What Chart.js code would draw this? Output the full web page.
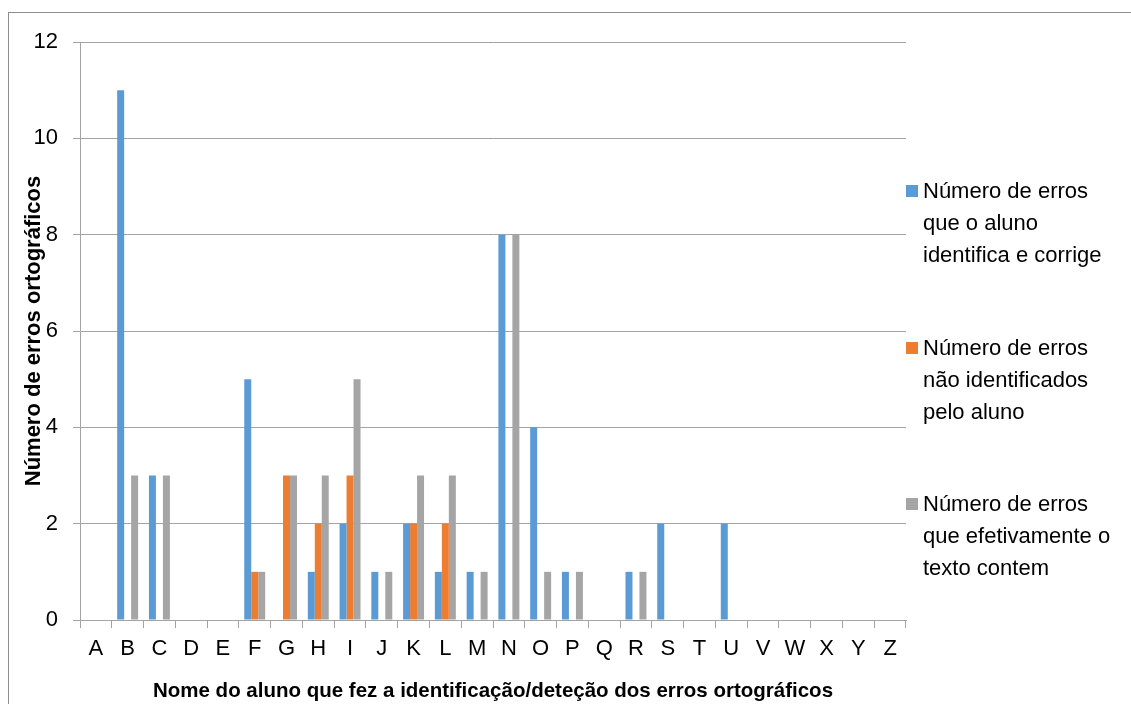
<!DOCTYPE html>
<html>
<head>
<meta charset="utf-8">
<script src="https://cdn.jsdelivr.net/npm/chart.js@4/dist/chart.umd.min.js"></script>
<style>
  body { margin: 0; background: #fff; overflow: hidden; }
  #frame { position: absolute; left: 8px; top: 12px; width: 2000px; height: 2000px; border: 1px solid #8e8e8e; }
  #wrap { position: absolute; left: 0; top: 0; width: 1131px; height: 704px; }
</style>
</head>
<body>
<div id="frame"></div>
<div id="wrap"><canvas id="grafico"></canvas></div>
<script>
const alunos = ['A', 'B', 'C', 'D', 'E', 'F', 'G', 'H', 'I', 'J', 'K', 'L', 'M', 'N', 'O', 'P', 'Q', 'R', 'S', 'T', 'U', 'V', 'W', 'X', 'Y', 'Z']

// Número de erros que o aluno identifica e corrige
const identificaCorrige = [0, 11, 3, 0, 0, 5, 0, 1, 2, 1, 2, 1, 1, 8, 4, 1, 0, 1, 2, 0, 2, 0, 0, 0, 0, 0]
// Número de erros não identificados pelo aluno
const naoIdentificados = [0, 0, 0, 0, 0, 1, 3, 2, 3, 0, 2, 2, 0, 0, 0, 0, 0, 0, 0, 0, 0, 0, 0, 0, 0, 0]
// Número de erros que efetivamente o texto contem
const efetivamente = [0, 3, 3, 0, 0, 1, 3, 3, 5, 1, 3, 3, 1, 8, 1, 1, 0, 1, 0, 0, 0, 0, 0, 0, 0, 0]

const yTicks = [0, 2, 4, 6, 8, 10, 12]

const legendaSeries = [
  ['Número de erros', 'que o aluno', 'identifica e corrige'],
  ['Número de erros', 'não identificados', 'pelo aluno'],
  ['Número de erros', 'que efetivamente o', 'texto contem']
]

const fonte = "'Liberation Sans', Arial, sans-serif"
const corGrade = '#a3a3a3'

// legenda desenhada à direita, com várias linhas por série
const legendaDireita = {
  id: 'legendaDireita',
  afterDraw(chart) {
    const ctx = chart.ctx
    const x0 = chart.chartArea.right
    const tops = [192, 349, 505]
    ctx.save()
    ctx.font = '22px ' + fonte
    ctx.textBaseline = 'middle'
    chart.data.datasets.forEach((ds, i) => {
      ctx.fillStyle = ds.backgroundColor
      ctx.fillRect(x0, tops[i] - 7, 12, 12)
      ctx.fillStyle = '#000'
      legendaSeries[i].forEach((linha, j) => {
        ctx.fillText(linha, x0 + 17, tops[i] + j * 32)
      })
    })
    ctx.restore()
  }
}

new Chart(document.getElementById('grafico'), {
  type: 'bar',
  data: {
    labels: alunos,
    datasets: [
      { label: legendaSeries[0].join(' '), data: identificaCorrige, backgroundColor: '#5B9BD5' },
      { label: legendaSeries[1].join(' '), data: naoIdentificados, backgroundColor: '#ED7D31' },
      { label: legendaSeries[2].join(' '), data: efetivamente, backgroundColor: '#A5A5A5' }
    ]
  },
  options: {
    responsive: true,
    maintainAspectRatio: false,
    animation: false,
    events: [],
    categoryPercentage: 0.66,
    barPercentage: 1,
    layout: { padding: { top: 42, right: 225, left: 0, bottom: 0 } },
    plugins: {
      legend: { display: false },
      tooltip: { enabled: false }
    },
    scales: {
      x: {
        grid: { offset: true, drawOnChartArea: false, tickLength: 8, color: corGrade },
        border: { color: corGrade },
        ticks: { color: '#000', font: { family: fonte, size: 22 }, padding: 8, maxRotation: 0 },
        title: {
          display: true,
          text: 'Nome do aluno que fez a identificação/deteção dos erros ortográficos',
          color: '#000',
          font: { family: fonte, size: 20.5, weight: 'bold' },
          padding: { top: 0, bottom: 0 }
        },
        afterFit: s => { s.height = 84 }
      },
      y: {
        min: 0,
        max: 12,
        afterBuildTicks: s => { s.ticks = yTicks.map(v => ({ value: v })) },
        grid: { color: corGrade, tickLength: 7 },
        border: { color: corGrade },
        ticks: { color: '#000', font: { family: fonte, size: 22 }, padding: 15 },
        title: {
          display: true,
          text: 'Número de erros ortográficos',
          color: '#000',
          font: { family: fonte, size: 22, weight: 'bold' },
          padding: { top: 21, bottom: 0 }
        },
        afterFit: s => { s.width = 80 }
      }
    }
  },
  plugins: [legendaDireita]
})
</script>
</body>
</html>
